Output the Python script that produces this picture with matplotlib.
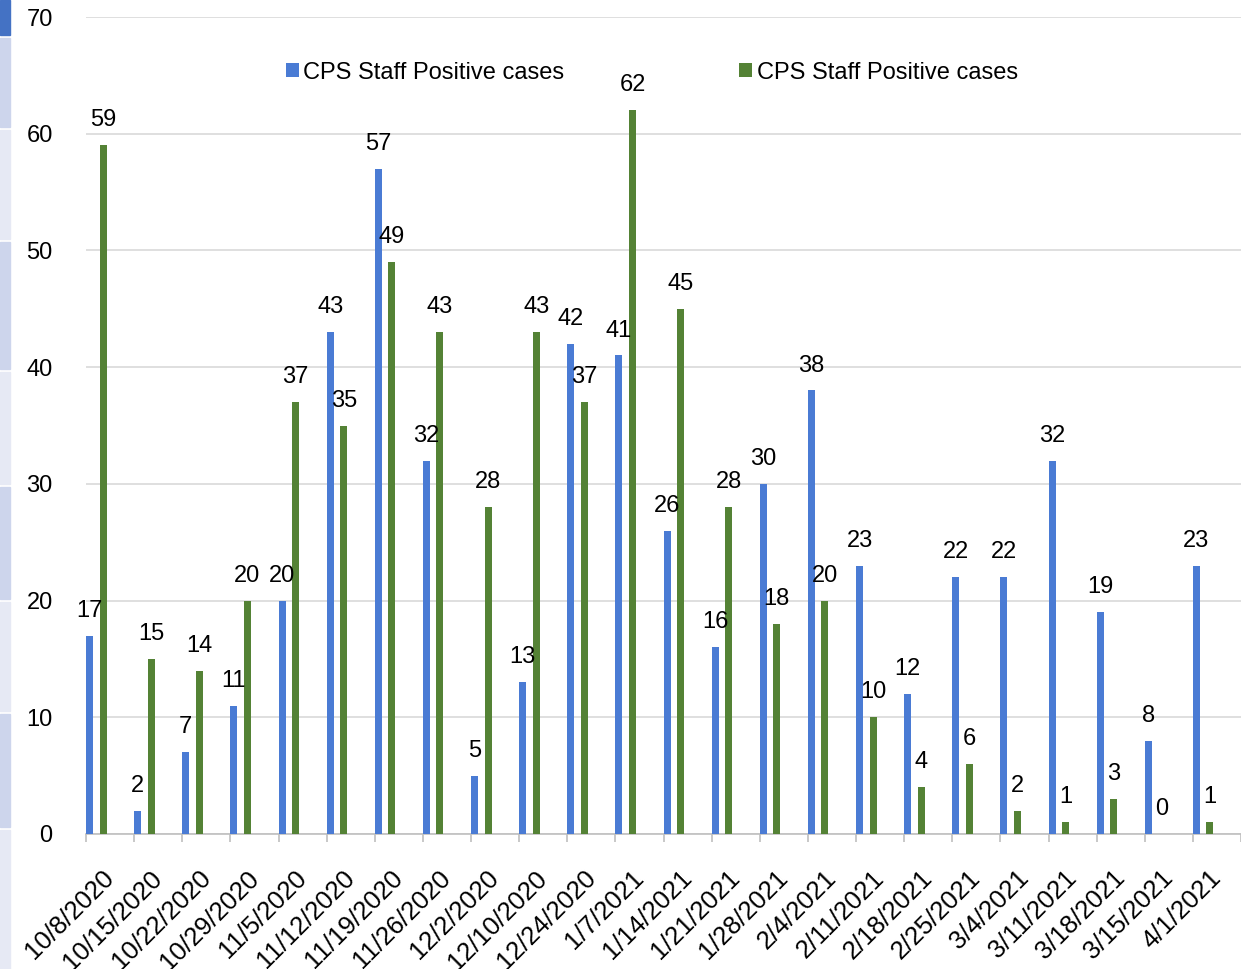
import matplotlib.pyplot as plt
from matplotlib.patches import Rectangle

plt.rcParams['font.family'] = ['Liberation Sans', 'DejaVu Sans']

dates = ["10/8/2020", "10/15/2020", "10/22/2020", "10/29/2020", "11/5/2020",
         "11/12/2020", "11/19/2020", "11/26/2020", "12/2/2020", "12/10/2020",
         "12/24/2020", "1/7/2021", "1/14/2021", "1/21/2021", "1/28/2021",
         "2/4/2021", "2/11/2021", "2/18/2021", "2/25/2021", "3/4/2021",
         "3/11/2021", "3/18/2021", "3/15/2021", "4/1/2021"]

blue_vals = [17, 2, 7, 11, 20, 43, 57, 32, 5, 13, 42, 41,
             26, 16, 30, 38, 23, 12, 22, 22, 32, 19, 8, 23]
green_vals = [59, 15, 14, 20, 37, 35, 49, 43, 28, 43, 37, 62,
              45, 28, 18, 20, 10, 4, 6, 2, 1, 3, 0, 1]

blue = '#4a7bd4'
green = '#548235'

fig = plt.figure(figsize=(12.41, 9.69), dpi=100)

# slide strip on the left edge
strip = [(0, 35, '#4472c4'), (38, 127, '#cdd5ec'), (130, 239, '#e6e9f4'),
         (242, 369, '#cdd5ec'), (372, 484, '#e6e9f4'), (487, 599, '#cdd5ec'),
         (602, 711, '#e6e9f4'), (714, 827, '#cdd5ec'), (830, 969, '#e6e9f4')]
for y0, y1, c in strip:
    fig.patches.append(Rectangle((0, 1 - y1 / 969), 10 / 1241, (y1 - y0) / 969,
                                 transform=fig.transFigure, color=c, zorder=0))

ax = fig.add_axes([86 / 1241, 1 - 834 / 969, 1 - 86 / 1241, 817 / 969])

n = len(dates)
x = list(range(n))
w = 0.145
bx = [i + 0.075 for i in x]
gx = [i + 0.355 for i in x]

ax.bar(bx, blue_vals, width=w, color=blue, label='CPS Staff Positive cases', zorder=3)
ax.bar(gx, green_vals, width=w, color=green, label='CPS Staff Positive cases', zorder=3)

for xs, vals in [(bx, blue_vals), (gx, green_vals)]:
    for xi, v in zip(xs, vals):
        ax.annotate(str(v), (xi, v), xytext=(0, 10), textcoords='offset points',
                    ha='center', va='bottom', fontsize=17, zorder=4)

ax.set_xlim(0, n)
ax.set_ylim(0, 70)
ax.set_yticks(range(0, 71, 10))
ax.grid(axis='y', color='#d9d9d9', linewidth=1.2, zorder=0)
ax.set_axisbelow(True)

for s in ['top', 'right', 'left']:
    ax.spines[s].set_visible(False)
ax.spines['bottom'].set_color('#bfbfbf')
ax.spines['bottom'].set_linewidth(1.2)

ax.set_xticks([i + 0.33 for i in x])
ax.set_xticklabels(dates, rotation=45, ha='right', rotation_mode='anchor', fontsize=18.5)
ax.set_xticks(range(n + 1), minor=True)
ax.tick_params(axis='x', which='major', length=0, pad=23)
ax.tick_params(axis='x', which='minor', length=6, color='#bfbfbf', width=1.2)
ax.tick_params(axis='y', length=0, pad=24, labelsize=17)

ax.legend(ncol=2, loc='center', bbox_to_anchor=(0.49, 0.932), frameon=False,
          fontsize=17, handlelength=0.55, handleheight=0.55, handletextpad=0.2,
          columnspacing=7.4)

fig.savefig('out.png', dpi=100)
